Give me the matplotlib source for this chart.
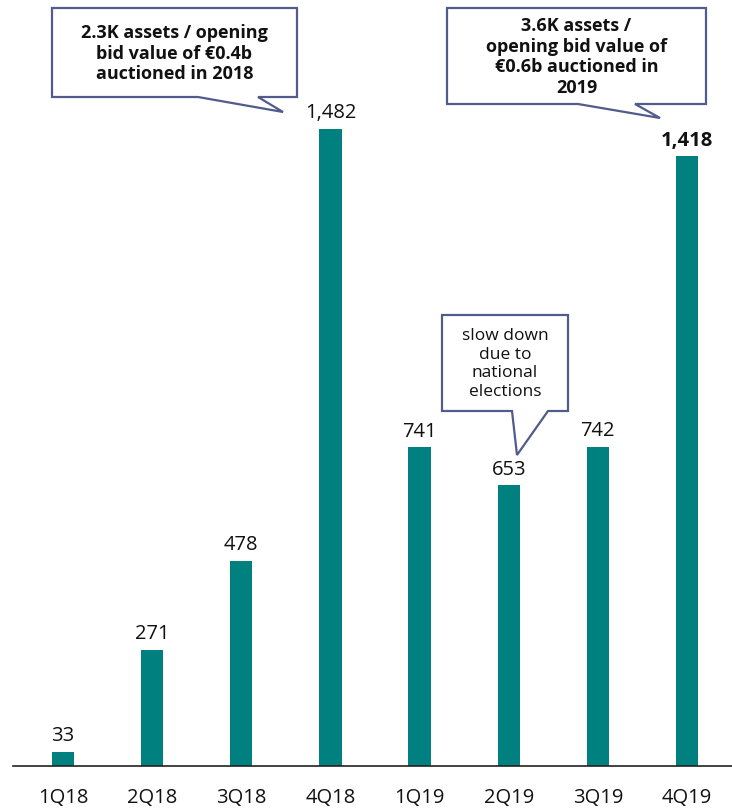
import matplotlib
matplotlib.use("Agg")
import matplotlib.pyplot as plt
from matplotlib.patches import Polygon

categories = ["1Q18", "2Q18", "3Q18", "4Q18", "1Q19", "2Q19", "3Q19", "4Q19"]
values = [33, 271, 478, 1482, 741, 653, 742, 1418]
value_labels = ["33", "271", "478", "1,482", "741", "653", "742", "1,418"]
callout_texts = [
    "2.3K assets / opening\nbid value of €0.4b\nauctioned in 2018",
    "3.6K assets /\nopening bid value of\n€0.6b auctioned in\n2019",
    "slow down\ndue to\nnational\nelections",
]

plt.rcParams['font.family'] = ['Open Sans', 'DejaVu Sans']
W, H = 732, 809
fig = plt.figure(figsize=(W / 100, H / 100), dpi=100)

teal = "#00807F"
edge = "#515C8C"

ax = fig.add_axes([13 / W, (H - 766) / H, 1 - 13 / W, 766 / H])
x = list(range(len(categories)))
ax.bar(x, values, width=0.25, color=teal, zorder=2)
ax.set_xlim(-0.561, 7.505)
ax.set_ylim(0, 1782)
for s in ["top", "right", "left"]:
    ax.spines[s].set_visible(False)
ax.spines["bottom"].set_color("#222222")
ax.spines["bottom"].set_linewidth(1.2)
ax.set_yticks([])
ax.set_xticks(x)
ax.set_xticklabels(categories, fontsize=14.5, color="#111111")
ax.tick_params(axis="x", length=0, pad=16)
for xi, v, lab in zip(x, values, value_labels):
    bold = lab == "1,418"
    ax.annotate(lab, (xi, v), xytext=(0, 4), textcoords="offset points",
                ha="center", va="bottom", fontsize=14.5,
                fontweight="bold" if bold else "normal", color="#111111")

# overlay for callouts, pixel coordinates
ov = fig.add_axes([0, 0, 1, 1], facecolor="none")
ov.set_xlim(0, W)
ov.set_ylim(H, 0)
ov.axis("off")

def callout(x0, y0, x1, y1, ta, tb, tip, text, bold, fs, ls):
    pts = [(x0, y0), (x1, y0), (x1, y1), (tb, y1), tip, (ta, y1), (x0, y1)]
    ov.add_patch(Polygon(pts, closed=True, facecolor="white", edgecolor=edge, linewidth=1.6, zorder=5))
    ov.text((x0 + x1) / 2, (y0 + y1) / 2 + 1, text, ha="center", va="center",
            fontsize=fs, fontweight="bold" if bold else "normal",
            color="#111111", linespacing=ls, zorder=6)

callout(52, 8, 297, 97, 198, 258, (283, 112), callout_texts[0], True, 13, 1.2)
callout(447, 8, 706, 104, 578, 635, (660, 118), callout_texts[1], True, 13, 1.17)
callout(442, 315, 568, 411, 512, 548, (517, 455), callout_texts[2], False, 12.5, 1.22)

fig.savefig("out.png", dpi=100)
